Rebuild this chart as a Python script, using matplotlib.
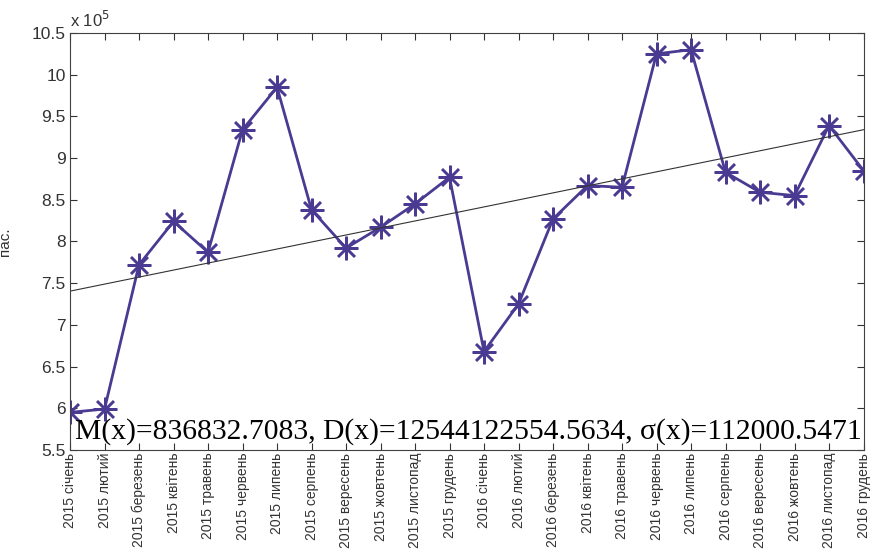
import numpy as np
import matplotlib
matplotlib.use('Agg')
import matplotlib.pyplot as plt

months = ['січень', 'лютий', 'березень', 'квітень', 'травень', 'червень',
          'липень', 'серпень', 'вересень', 'жовтень', 'листопад', 'грудень']
labels = ['2015 ' + m for m in months] + ['2016 ' + m for m in months]

# пасажири, у 10^5
passengers = [5.95, 5.99, 7.72, 8.24, 7.87, 9.34, 9.85, 8.38, 7.92, 8.17, 8.45, 8.77,
              6.68, 7.25, 8.27, 8.67, 8.65, 10.25, 10.30, 8.83, 8.59, 8.55, 9.39, 8.85]
stats_text = 'M(x)=836832.7083, D(x)=12544122554.5634, σ(x)=112000.5471'

plt.rcParams['font.family'] = ['Liberation Sans Narrow', 'Liberation Sans', 'DejaVu Sans']

def plot_data(values):
    x = np.arange(len(values))
    y = np.array(values)
    fig = plt.figure(figsize=(8.71, 5.5), dpi=100)
    ax = fig.add_axes([0.0804, 0.182, 0.911, 0.758])
    ax.plot(x, y, '-', color='#4a3a92', lw=2)
    ax.plot(x, y, ls='none', marker=(8, 2, 0), color='#4a3a92', ms=17, mew=1.8)
    k, b = np.polyfit(x, y, 1)
    ax.plot(x, k * x + b, '-', color='#333333', lw=0.8)
    ax.set_xlim(0, len(values) - 1)
    ax.set_ylim(5.5, 10.5)
    ax.set_yticks(np.arange(5.5, 10.51, 0.5))
    ax.set_yticklabels(['5.5', '6', '6.5', '7', '7.5', '8', '8.5', '9', '9.5', '10', '10.5'])
    ax.set_xticks(x)
    ax.tick_params(direction='in', top=True, right=True, length=5, labelsize=12.5,
                   colors='#333333', pad=3)
    ax.tick_params(axis='x', pad=2)
    ax.set_xticklabels(labels, rotation=90, fontsize=10)
    for s in ax.spines.values():
        s.set_color('#404040')
    ax.set_ylabel('пас.', fontsize=11, labelpad=14, color='#333333')
    ax.text(0, 1.006, 'x 10$^5$', transform=ax.transAxes, fontsize=12,
            va='bottom', ha='left', color='#333333')
    ax.text(0.006, 0.012, stats_text, transform=ax.transAxes, fontsize=21.3,
            family='Liberation Serif', va='bottom', ha='left')
    fig.savefig('out.png', dpi=100)

if __name__ == '__main__':
    plot_data(passengers)
